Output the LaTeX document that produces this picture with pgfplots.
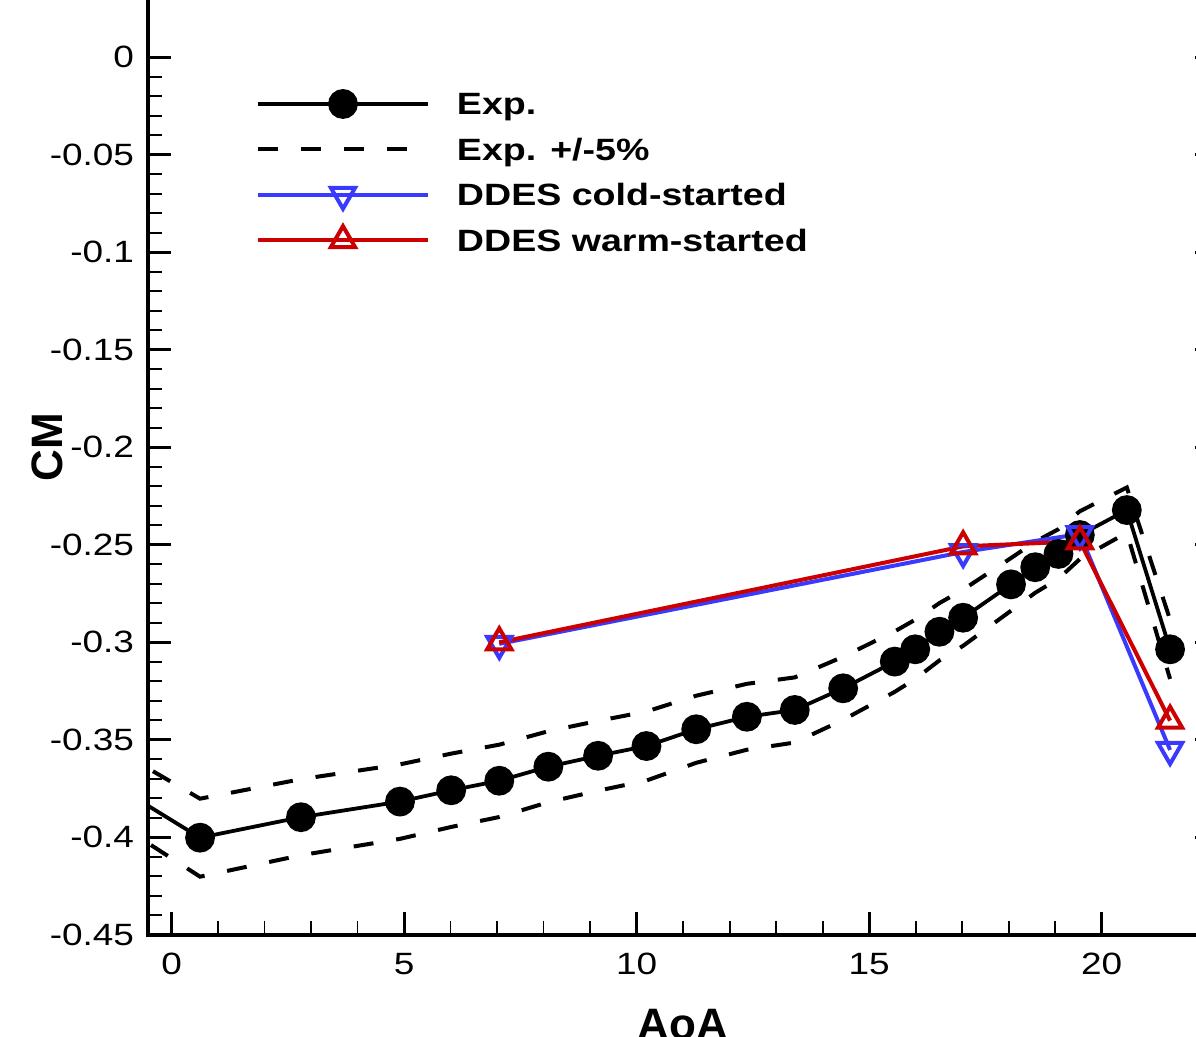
\documentclass[border=0pt]{standalone}
\usepackage{fontspec}
\setmainfont{Liberation Sans}[FakeStretch=1.2]
\newfontfamily\labfont{Liberation Sans}
\newfontfamily\legfont{Liberation Sans}[FakeStretch=1.22]
\usepackage{pgfplots}
\pgfplotsset{compat=1.18}
\definecolor{ddesblue}{RGB}{58,58,255}
\definecolor{ddesred}{RGB}{204,0,0}
\begin{document}
\begin{tikzpicture}
\begin{axis}[
  scale only axis,
  width=534.75pt, height=487.5pt,
  xmin=-0.5, xmax=22.5, ymin=-0.45, ymax=0.05,
  xtick={0,5,10,15,20}, xticklabels={0,5,10,15,20},
  ytick={-0.45,-0.4,-0.35,-0.3,-0.25,-0.2,-0.15,-0.1,-0.05,0},
  yticklabels={-0.45,-0.4,-0.35,-0.3,-0.25,-0.2,-0.15,-0.1,-0.05,0},
  minor x tick num=4, minor y tick num=4,
  tick align=inside,
  major tick length=11.5pt, minor tick length=7pt,
  major tick style={line width=1.6pt, black},
  minor tick style={line width=0.8pt, black},
  axis line style={line width=2pt},
  tick label style={font=\fontsize{15.4}{18}\selectfont},
  xticklabel style={anchor=north, inner sep=0pt, yshift=-9pt},
  yticklabel style={anchor=east, inner sep=0pt, xshift=-7pt},
  xlabel={\labfont\bfseries\fontsize{22}{26}\selectfont AoA},
  ylabel={\labfont\bfseries\fontsize{22}{26}\selectfont CM},
  xlabel style={at={(rel axis cs:0.5,-0.1074)}, anchor=base, inner sep=0pt},
  ylabel style={at={(rel axis cs:-0.0944,0.5)}, anchor=center, inner sep=0pt},
  legend image code/.code={\draw[mark repeat=2,mark phase=2,#1] plot coordinates {(0pt,0pt) (42.5pt,0pt) (85pt,0pt)};},
  legend cell align=left,
  legend style={draw=none, fill=none, at={(rel axis cs:0.10056,0.87159)}, anchor=north west,
    inner sep=0pt, outer sep=0pt, row sep=3.7pt, column sep=13.5pt,
    nodes={inner sep=0pt, text height=15pt, text depth=4pt, font=\legfont\fontsize{15.4}{18}\selectfont\bfseries}},
]
\addplot[black, line width=1.9pt, mark=*, mark size=6.5pt, mark options={solid, fill=black}] coordinates {
(-2.0,-0.3620) (0.61,-0.4002) (2.78,-0.3897) (4.91,-0.3817) (6.01,-0.3759) (7.045,-0.3710)
(8.10,-0.3638) (9.17,-0.3582) (10.21,-0.3532) (11.28,-0.3446) (12.37,-0.3382) (13.40,-0.3347)
(14.44,-0.3236) (15.55,-0.3099) (15.99,-0.3036) (16.51,-0.2946) (17.02,-0.2874) (18.05,-0.2703)
(18.57,-0.2615) (19.07,-0.2547) (19.53,-0.2450) (20.54,-0.2322) (21.47,-0.3036)};
\addlegendentry{Exp.}
\addplot[black, line width=2pt, dash pattern=on 10pt off 11.5pt] coordinates {
(-2.0,-0.3439) (0.61,-0.3802) (2.78,-0.3702) (4.91,-0.3626) (6.01,-0.3571) (7.045,-0.3525)
(8.10,-0.3456) (9.17,-0.3403) (10.21,-0.3355) (11.28,-0.3274) (12.37,-0.3213) (13.40,-0.3180)
(14.44,-0.3074) (15.55,-0.2944) (15.99,-0.2884) (16.51,-0.2799) (17.02,-0.2730) (18.05,-0.2568)
(18.57,-0.2484) (19.07,-0.2420) (19.53,-0.2328) (20.54,-0.2206) (21.47,-0.2884)};
\addlegendentry{Exp. +/-5\%}
\addplot[black, line width=2pt, dash pattern=on 10pt off 11.5pt, forget plot] coordinates {
(-2.0,-0.3801) (0.61,-0.4202) (2.78,-0.4092) (4.91,-0.4008) (6.01,-0.3947) (7.045,-0.3896)
(8.10,-0.3820) (9.17,-0.3761) (10.21,-0.3709) (11.28,-0.3618) (12.37,-0.3551) (13.40,-0.3514)
(14.44,-0.3398) (15.55,-0.3254) (15.99,-0.3188) (16.51,-0.3093) (17.02,-0.3018) (18.05,-0.2838)
(18.57,-0.2746) (19.07,-0.2674) (19.53,-0.2573) (20.54,-0.2438) (21.47,-0.3188)};
\addplot[ddesblue, line width=2pt, mark=triangle, mark size=7pt, mark options={solid, rotate=180}] coordinates {
(7.045,-0.3008) (17.02,-0.2537) (19.53,-0.2445) (21.47,-0.3552)};
\addlegendentry{DDES cold-started}
\addplot[ddesred, line width=2pt, mark=triangle, mark size=7pt, mark options={solid}] coordinates {
(7.045,-0.3000) (17.02,-0.2508) (19.53,-0.2482) (21.47,-0.3402)};
\addlegendentry{DDES warm-started}
\coordinate (bbA) at (rel axis cs:-0.13880,-0.10482);
\coordinate (bbB) at (rel axis cs:0.97948,0.95877);
\end{axis}
\pgfresetboundingbox
\path[use as bounding box] (bbA) rectangle (bbB);
\end{tikzpicture}
\end{document}
